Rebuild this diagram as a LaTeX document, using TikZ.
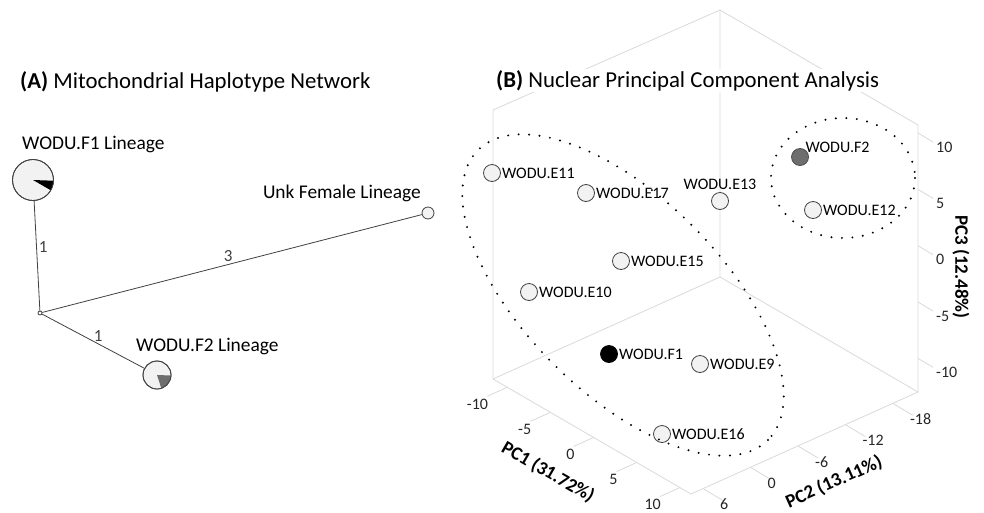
\documentclass[tikz,border=0pt]{standalone}
\usepackage{fontspec}
\setmainfont{Carlito}
\usetikzlibrary{positioning}

\definecolor{gridgray}{HTML}{D9D9D9}
\definecolor{lightfill}{HTML}{F2F2F2}
\definecolor{darkline}{HTML}{404040}
\definecolor{midgray}{HTML}{6E6E6E}

\begin{document}
\begin{tikzpicture}[
  x=1pt,y=-1pt,
  sample/.style={circle,draw=darkline,fill=lightfill,line width=0.8pt,
                 minimum size=17pt,inner sep=0pt},
  samplelab/.style={font=\fontsize{16}{16}\selectfont,inner sep=1pt},
  grid/.style={gridgray,line width=0.8pt},
  ticklab/.style={font=\fontsize{16}{16}\selectfont,inner sep=0pt,text=black!85},
  axtitle/.style={font=\fontsize{19}{19}\selectfont\bfseries,inner sep=0pt},
  hap/.style={circle,draw=darkline,fill=lightfill,line width=0.8pt,inner sep=0pt},
  netlab/.style={font=\fontsize{19.4}{19.4}\selectfont,inner sep=0pt},
  edge/.style={darkline,line width=0.8pt},
  steps/.style={font=\fontsize{17}{17}\selectfont,inner sep=2pt},
  dots/.style={line width=2.2pt,line cap=round,dash pattern=on 0pt off 10.5pt},
  paneltitle/.style={font=\fontsize{22.8}{22.8}\selectfont,inner sep=0pt},
]
\useasboundingbox (0,0) rectangle (984,512);

% (A) haplotype network
\node[paneltitle,anchor=base west] (titleA) at (20,88)
  {\textbf{(A)} Mitochondrial Haplotype Network};

\node[hap,minimum size=41pt] (f1hap) at (33,180) {};
\fill[black] (f1hap.center) -- ++(2:20.5) arc[start angle=2,end angle=30,radius=20.5] -- cycle;
\draw[edge] (f1hap.center) circle[radius=20.5];

\node[hap,minimum size=28pt] (f2hap) at (157,375) {};
\fill[midgray] (f2hap.center) -- ++(2:14) arc[start angle=2,end angle=72,radius=14] -- cycle;
\draw[edge] (f2hap.center) circle[radius=14];

\node[hap,minimum size=12pt] (unk) at (428,213) {};
\node[hap,fill=white,minimum size=4pt] (mv) at (40,313) {};

\draw[edge] (f1hap) -- (mv) node[steps,pos=0.42,right] (s1) {1};
\draw[edge] (mv) -- (unk) node[steps,pos=0.49,above] (s3) {3};
\draw[edge] (mv) -- (f2hap) node[steps,pos=0.55,above] (s2) {1};

\node[netlab,anchor=base west] (f1lab) at (22,149) {WODU.F1 Lineage};
\node[netlab,anchor=base west] (f2lab) at (136,351) {WODU.F2 Lineage};
\node[netlab,anchor=base east] (unklab) at (421,198) {Unk Female Lineage};

% (B) 3D PCA box
\coordinate (T) at (720,10);
\coordinate (C) at (720,277);
\coordinate (L) at (493,110);
\coordinate (LB) at (493,379);
\coordinate (R) at (918,125);
\coordinate (RB) at (918,392);
\coordinate (F) at (691,494);
\draw[grid] (L) -- (T) -- (R) (T) -- (C)
  (L) -- (LB) -- (F) -- (RB) -- (R)
  (LB) -- (C) -- (RB);

\node[paneltitle,anchor=base west,fill=white,inner sep=1pt] (titleB) at (495,87)
  {\textbf{(B)} Nuclear Principal Component Analysis};

% axis ticks
\foreach \v [count=\i from 0] in {-10,-5,0,5,10} {
  \path (LB) -- (F) coordinate[pos={0.072+0.218*\i}] (a\i);
  \draw[grid] (a\i) -- ++(-20,9);
  \node[ticklab,anchor=east] (al\i) at ([shift={(-19,17)}]a\i) {\v};
}
\foreach \v [count=\i from 0] in {6,0,-6,-12,-18} {
  \path (F) -- (RB) coordinate[pos={0.053+0.209*\i}] (b\i);
  \draw[grid] (b\i) -- ++(20,12);
  \node[ticklab,anchor=west] (bl\i) at ([shift={(17,16)}]b\i) {\v};
}
\foreach \v [count=\i from 0] in {10,5,0,-5,-10} {
  \path (R) -- (RB) coordinate[pos={0.03+0.211*\i}] (c\i);
  \draw[grid] (c\i) -- ++(15,9);
  \node[ticklab,anchor=west] (cl\i) at ([shift={(18,14)}]c\i) {\v};
}

\node[axtitle,rotate=-30] (pc1) at (548,472) {PC1 (31.72\%)};
\node[axtitle,rotate=24] (pc2) at (834,482) {PC2 (13.11\%)};
\node[axtitle,rotate=-90] (pc3) at (961,267) {PC3 (12.48\%)};

% samples
\node[sample] (e11) at (492,173) {};
\node[sample] (e17) at (586,193) {};
\node[sample] (e13) at (720,201) {};
\node[sample,fill=midgray,draw=black!70] (f2) at (800,157) {};
\node[sample] (e12) at (813,210) {};
\node[sample] (e15) at (621,261) {};
\node[sample] (e10) at (529,292) {};
\node[sample,fill=black,draw=black] (f1) at (609,354) {};
\node[sample] (e9) at (700,364) {};
\node[sample] (e16) at (662,434) {};

\node[samplelab,right=0pt of e11] (e11lab) {WODU.E11};
\node[samplelab,right=0pt of e17] (e17lab) {WODU.E17};
\node[samplelab,above=1pt of e13] (e13lab) {WODU.E13};
\node[samplelab,above right=-3pt and -2pt of f2] (f2lab) {WODU.F2};
\node[samplelab,right=0pt of e12] (e12lab) {WODU.E12};
\node[samplelab,right=0pt of e15] (e15lab) {WODU.E15};
\node[samplelab,right=0pt of e10] (e10lab) {WODU.E10};
\node[samplelab,right=0pt of f1] (f1lab) {WODU.F1};
\node[samplelab,right=0pt of e9] (e9lab) {WODU.E9};
\node[samplelab,right=0pt of e16] (e16lab) {WODU.E16};

% clusters
\draw[dots,rotate around={-45:(623,295)}] (623,295) ellipse[x radius=205,y radius=98];
\draw[dots] (843,178) ellipse[x radius=72,y radius=60];
\end{tikzpicture}
\end{document}
